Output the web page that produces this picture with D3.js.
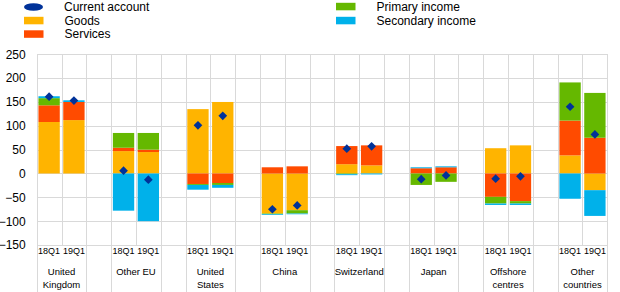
<!DOCTYPE html>
<html lang="en">
  <head>
    <meta charset="utf-8">
    <title>Current account by counterpart</title>
    <script src="https://d3js.org/d3.v7.min.js"></script>
    <style>
      body { margin: 0; background: #fff; }
      svg { font-family: "Liberation Sans", Arial, sans-serif; }
      .grid line { stroke: #d9d9d9; stroke-width: 1; shape-rendering: crispEdges; }
    </style>
  </head>
  <body>
    <div id="chart"></div>
    <script>
      // data
      var groupLabels = [["United", "Kingdom"], ["Other EU"], ["United", "States"], ["China"],
        ["Switzerland"], ["Japan"], ["Offshore", "centres"], ["Other", "countries"]];
      var quarters = ["18Q1", "19Q1"];
      var goods = [108, 112, 47, 45, 135, 150, -84, -77, 19.5, 17, 0, 0, 53, 59, 38, -35];
      var services = [35, 38, 7, 5, -22, -20, 13, 15, 38, 42, 11, 13, -49, -58, 73, 75];
      var primaryIncome = [15, 0, 31, 35, -2, -4, -1.5, -7, -1.5, 0, -24, -17.5, -14, -5, 80, 94];
      var secondaryIncome = [4, 3.5, -78, -100, -10, -6, -1.5, -1.5, -2, -2, 2, 2, -3, -3, -53, -54];
      var currentAccount = [161, 153, 6, -13, 101, 121, -75, -67, 52, 57, -12, -4, -11, -6, 140, 82];
      var yTicks = [-150, -100, -50, 0, 50, 100, 150, 200, 250];

      var seriesNames = ["Goods", "Services", "Primary income", "Secondary income"];
      var colors = { "Goods": "#ffb400", "Services": "#ff4b00", "Primary income": "#65b800",
        "Secondary income": "#00b1ea", "Current account": "#003299" };

      var width = 620, height = 292;
      var svg = d3.select("#chart").append("svg").attr("width", width).attr("height", height);

      // 8 groups of 2 bars, with an empty slot between groups
      var nSlots = groupLabels.length * 3 - 1;
      var rows = [];
      groupLabels.forEach(function(g, gi) {
        quarters.forEach(function(q, qi) {
          var i = gi * 2 + qi;
          rows.push({ slot: gi * 3 + qi, quarter: q, "Goods": goods[i], "Services": services[i],
            "Primary income": primaryIncome[i], "Secondary income": secondaryIncome[i], ca: currentAccount[i] });
        });
      });

      var x = d3.scaleBand().domain(d3.range(nSlots)).range([36.7, 607.3]).paddingInner(0.14).paddingOuter(0.07);
      var y = d3.scaleLinear().domain([-150, 250]).range([245, 54.3]);
      var step = x.step(), x0 = 36.7;

      // grid
      var grid = svg.append("g").attr("class", "grid");
      grid.selectAll(".h").data(yTicks).enter().append("line")
        .attr("x1", x0).attr("x2", 607.3)
        .attr("y1", function(d) { return Math.round(y(d)) + 0.5; })
        .attr("y2", function(d) { return Math.round(y(d)) + 0.5; });
      grid.selectAll(".v").data(d3.range(nSlots + 1)).enter().append("line")
        .attr("x1", function(d) { return Math.round(x0 + d * step) + 0.5; })
        .attr("x2", function(d) { return Math.round(x0 + d * step) + 0.5; })
        .attr("y1", y(250))
        .attr("y2", function(d) { return (d % 3 === 2 || d % 3 === 0 || d === nSlots) ? height : y(-150); });

      // stacked bars, negatives stacked downward
      var stacked = d3.stack().keys(seriesNames).offset(d3.stackOffsetDiverging)(rows);
      svg.append("g").selectAll("g").data(stacked).enter().append("g")
        .attr("fill", function(d) { return colors[d.key]; })
        .selectAll("rect").data(function(d) { return d; }).enter().append("rect")
          .attr("x", function(d) { return x(d.data.slot); })
          .attr("width", x.bandwidth())
          .attr("y", function(d) { return y(Math.max(d[0], d[1])); })
          .attr("height", function(d) { return Math.abs(y(d[0]) - y(d[1])); });

      // current account markers
      svg.append("g").selectAll("path").data(rows).enter().append("path")
        .attr("d", d3.symbol().type(d3.symbolSquare).size(38))
        .attr("fill", colors["Current account"])
        .attr("transform", function(d) {
          return "translate(" + (x(d.slot) + x.bandwidth() / 2) + "," + y(d.ca) + ") rotate(45)";
        });

      // y axis
      var yAxis = svg.append("g").attr("transform", "translate(" + x0 + ",0)")
        .call(d3.axisLeft(y).tickValues(yTicks).tickSize(0).tickPadding(11));
      yAxis.select(".domain").remove();
      yAxis.selectAll("text").attr("font-size", 12).attr("fill", "#000").attr("font-family", null);

      // quarter labels
      var xAxis = svg.append("g").attr("transform", "translate(0," + y(-150) + ")")
        .call(d3.axisBottom(x).tickSize(0).tickPadding(3)
          .tickFormat(function(d) { return d % 3 === 2 ? "" : quarters[d % 3]; }));
      xAxis.select(".domain").remove();
      xAxis.selectAll("text").attr("font-size", 9).attr("fill", "#000").attr("font-family", null);

      // group labels
      svg.append("g").selectAll("text").data(groupLabels).enter().append("text")
        .attr("x", function(d, i) { return x0 + (i * 3 + 1) * step; })
        .attr("y", 274.5)
        .attr("text-anchor", "middle").attr("font-size", 9.5)
        .selectAll("tspan").data(function(d) { return d; }).enter().append("tspan")
          .attr("x", function() { return this.parentNode.getAttribute("x"); })
          .attr("dy", function(d, i) { return i === 0 ? 0 : 13; })
          .text(function(d) { return d; });

      // legend
      var legend = svg.append("g").attr("font-size", 12);
      legend.append("ellipse").attr("cx", 33.5).attr("cy", 7).attr("rx", 9.5).attr("ry", 3.8)
        .attr("fill", colors["Current account"]);
      legend.append("text").attr("x", 64).attr("y", 11).text("Current account");
      var legendItems = [
        { name: "Goods", lx: 24, ty: 20.5 }, { name: "Services", lx: 24, ty: 34 },
        { name: "Primary income", lx: 336, ty: 6.5 }, { name: "Secondary income", lx: 336, ty: 20.5 }
      ];
      legendItems.forEach(function(it) {
        legend.append("rect").attr("x", it.lx).attr("y", it.ty - 3.7).attr("width", 19.5).attr("height", 7.5)
          .attr("fill", colors[it.name]);
        legend.append("text").attr("x", it.lx + 40.5).attr("y", it.ty + 4).text(it.name);
      });
    </script>
  </body>
</html>
